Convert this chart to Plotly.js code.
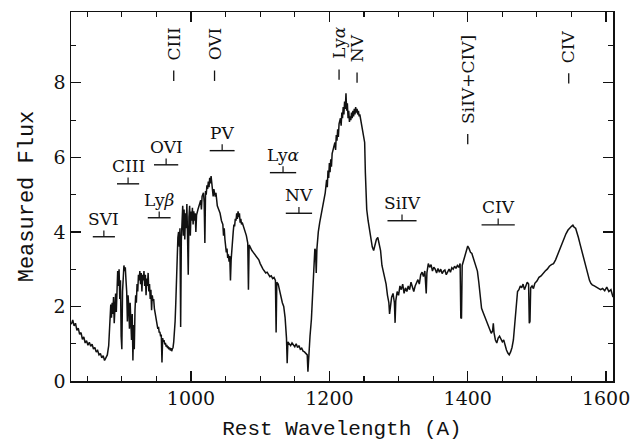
<!DOCTYPE html>
<html>
<head>
<meta charset="utf-8">
<script src="https://cdn.plot.ly/plotly-3.0.1.min.js"></script>
<style>
  html, body { margin: 0; padding: 0; background: #fff; }
  #chart { width: 630px; height: 444px; }
</style>
</head>
<body>
<div id="chart"></div>
<script>
// Rest-frame spectrum (Angstrom, measured flux)
const wavelength = [
  827,829,831,833,835,837,839,841,843,845,847,849,851,853,855,857,859,861,863,865,867,869,871,873,875,877,879,881,882,883,
  884,885,886,887,888,889,890,891,892,893,894,895,896,897,898,899,900,901,902,903,904,905,906,907,908,909,910,911,912,913,
  914,915,916,917,918,919,920,921,922,923,924,925,926,927,928,929,930,931,932,933,934,935,936,937,938,939,940,941,942,943,
  944,945,946,947,948,949,950,951,952,953,954,955,956,957,958,959,960,961,962,963,964,965,966,967,968,969,970,971,972,973,
  974,975,976,977,978,979,980,981,982,983,984,985,986,987,988,989,990,991,992,993,994,995,996,997,998,999,1000,1001,1002,1003,
  1004,1005,1006,1007,1008,1010,1012,1014,1015,1016,1018,1019,1020,1021,1022,1023,1024,1025,1026,1027,1028,1029,1030,1031,1032,1033,1034,1035,1036,1037,
  1038,1040,1042,1044,1046,1047,1048,1049,1050,1051,1052,1053,1054,1055,1056,1057,1058,1059,1060,1061,1062,1063,1064,1065,1066,1067,1068,1069,1070,1071,
  1072,1073,1074,1076,1078,1080,1082,1083,1084,1086,1088,1090,1092,1094,1096,1098,1100,1102,1104,1106,1108,1110,1112,1114,1116,1118,1120,1122,1123,1124,
  1126,1128,1130,1132,1134,1136,1138,1139,1140,1142,1144,1146,1148,1150,1152,1154,1156,1158,1160,1162,1164,1166,1168,1169,1170,1172,1174,1176,1178,1179,
  1180,1181,1182,1183,1184,1186,1188,1190,1192,1194,1196,1197,1198,1199,1200,1201,1202,1203,1204,1206,1208,1209,1210,1211,1212,1213,1214,1216,1217,1218,
  1219,1220,1221,1222,1223,1224,1225,1226,1227,1228,1229,1230,1231,1232,1233,1234,1235,1236,1237,1238,1239,1240,1241,1242,1243,1244,1246,1248,1250,1251,
  1252,1253,1254,1256,1258,1260,1262,1264,1266,1268,1270,1272,1274,1276,1278,1280,1282,1284,1286,1287,1288,1290,1292,1294,1295,1296,1298,1300,1302,1304,
  1306,1308,1310,1312,1314,1316,1318,1320,1322,1324,1326,1328,1330,1332,1334,1336,1338,1340,1341,1343,1345,1347,1349,1351,1353,1355,1357,1359,1361,1363,
  1365,1367,1369,1371,1373,1375,1377,1379,1381,1383,1385,1387,1389,1390,1391,1392,1394,1396,1398,1400,1402,1404,1406,1408,1410,1412,1414,1416,1418,1420,
  1422,1424,1426,1428,1430,1432,1434,1436,1437,1438,1440,1442,1444,1446,1448,1450,1452,1454,1456,1458,1460,1462,1464,1466,1468,1470,1472,1474,1476,1478,
  1480,1482,1484,1486,1488,1489,1490,1491,1493,1495,1497,1500,1503,1506,1509,1512,1515,1518,1521,1524,1527,1530,1533,1536,1539,1542,1545,1548,1550,1552,
  1554,1556,1558,1560,1562,1564,1566,1568,1570,1572,1574,1576,1578,1580,1583,1586,1589,1592,1595,1598,1601,1604,1607,1610
];
const flux = [
  1.52,1.64,1.48,1.55,1.36,1.42,1.25,1.30,1.12,1.18,1.02,1.08,0.96,1.04,0.93,0.99,0.86,0.90,0.78,0.82,0.70,0.74,0.62,0.68,0.55,0.62,0.70,0.95,1.45,1.85,
  2.05,1.70,2.10,1.80,2.25,1.55,2.00,2.35,1.85,2.60,2.95,2.55,3.00,2.20,2.70,1.20,0.85,2.40,2.90,3.10,2.95,3.05,2.70,2.40,1.60,2.30,2.00,1.40,2.10,1.70,
  1.10,1.80,0.55,1.50,0.85,1.90,2.30,2.10,2.60,2.40,2.85,2.70,2.95,2.60,2.90,2.40,2.85,2.70,2.95,2.55,2.85,2.30,2.75,2.55,2.90,2.40,2.60,2.20,2.45,1.90,
  2.30,2.15,2.20,1.95,1.85,1.70,1.60,1.52,1.40,1.45,1.30,1.32,1.20,1.25,0.50,1.15,1.05,1.10,0.98,1.02,0.92,0.97,0.88,0.93,0.85,0.90,0.82,0.88,0.80,0.86,
  0.90,1.05,1.25,1.60,2.10,2.80,3.40,3.85,4.00,3.60,4.10,1.45,3.80,4.30,4.70,3.90,4.60,3.80,4.50,4.10,4.75,3.85,2.85,4.40,4.70,3.90,4.55,4.30,4.65,4.20,
  4.55,4.30,4.50,4.00,4.45,4.60,4.70,4.85,4.60,4.95,5.05,4.80,3.70,5.10,5.00,5.25,5.15,5.35,5.20,5.45,5.30,5.50,5.25,5.05,4.95,5.15,5.00,4.95,5.05,4.85,
  4.70,4.60,4.50,4.30,4.20,3.90,4.10,3.80,3.60,3.45,3.55,3.30,3.40,3.20,3.35,2.70,3.25,3.60,3.90,4.00,4.20,4.15,4.35,4.30,4.50,4.35,4.55,4.40,4.50,4.25,
  4.35,4.20,4.25,4.15,4.05,3.90,3.70,2.45,3.65,3.55,3.50,3.45,3.40,3.35,3.30,3.25,3.15,3.05,3.00,2.95,2.90,2.92,2.85,2.80,2.82,2.75,2.78,2.70,1.30,2.65,
  2.60,2.40,2.25,2.10,2.00,1.70,1.15,0.48,1.05,1.00,0.95,1.02,0.95,0.92,1.00,0.90,0.95,0.85,0.88,0.80,0.78,0.75,0.70,0.25,0.65,1.20,1.65,2.55,3.30,3.55,
  3.50,2.90,3.55,3.80,4.00,4.25,4.45,4.60,4.80,5.05,5.40,5.20,5.65,5.45,5.85,5.60,5.95,5.75,6.10,6.25,6.40,6.20,6.60,6.45,6.75,6.55,6.90,7.05,6.85,7.20,
  7.05,7.35,7.15,7.50,7.30,7.72,7.25,7.45,7.05,7.25,6.95,7.10,7.00,7.20,7.05,7.25,7.10,7.30,7.15,7.35,7.20,7.30,7.15,7.25,7.10,7.15,6.95,6.80,6.55,6.40,
  5.60,4.90,4.60,4.30,4.05,3.90,3.60,3.50,3.65,3.80,3.85,3.70,3.50,3.10,2.95,2.80,2.60,2.30,2.10,1.80,2.00,2.25,2.35,2.10,1.56,2.15,2.40,2.30,2.55,2.45,
  2.60,2.35,2.50,2.40,2.55,2.45,2.65,2.50,2.40,2.55,2.65,2.72,2.60,2.85,2.92,2.80,2.95,2.35,2.90,3.15,3.05,3.12,2.95,3.05,3.00,2.90,3.02,2.92,3.00,2.88,
  2.95,2.98,2.85,2.95,3.00,2.92,3.04,3.00,3.08,3.02,3.10,3.05,3.15,1.70,1.68,3.10,3.25,3.40,3.50,3.62,3.55,3.45,3.42,3.30,3.20,3.10,2.95,2.65,2.35,1.95,
  1.85,1.75,1.70,1.55,1.45,1.40,1.28,1.35,1.55,1.30,1.10,1.02,1.15,1.20,1.12,1.05,1.10,0.92,0.83,0.75,0.70,0.78,0.90,1.10,1.55,2.10,2.40,2.45,2.55,2.50,
  2.60,2.45,2.55,2.65,2.60,1.55,1.60,2.50,2.55,2.48,2.62,2.68,2.78,2.82,2.90,2.95,3.00,3.08,3.12,3.15,3.25,3.40,3.55,3.70,3.80,3.95,4.05,4.12,4.15,4.18,
  4.12,4.10,4.00,3.85,3.70,3.55,3.40,3.22,3.10,2.95,2.80,2.70,2.62,2.58,2.55,2.52,2.50,2.45,2.48,2.42,2.52,2.40,2.45,2.25
];

// Emission-line identifications (rest wavelength, marker base level)
const emisNames = ['CIII', 'OVI', 'Ly<i>α</i>', 'NV', 'SiIV+CIV]', 'CIV'];
const emisWave  = [975, 1034, 1214, 1240, 1400, 1546];
const emisLevel = [8.05, 8.05, 8.08, 8.0, 6.35, 7.98];

// Blueshifted absorption troughs (centre, level, bar width in Angstrom)
const absNames = ['SVI', 'CIII', 'Ly<i>β</i>', 'OVI', 'PV', 'Ly<i>α</i>', 'NV', 'SiIV', 'CIV'];
const absWave  = [874, 909, 954, 964, 1045, 1133, 1156, 1305, 1444];
const absLevel = [3.87, 5.29, 4.38, 5.80, 6.18, 5.59, 4.50, 4.30, 4.19];
const absWidth = [32, 32, 33, 35, 36, 38, 38, 42, 48];

const ink = '#111';
const labelFont = { family: 'DejaVu Serif', size: 17, color: ink };

const shapes = [];
const annotations = [];

emisWave.forEach((w, i) => {
  shapes.push({ type: 'line', xref: 'x', yref: 'y', x0: w, x1: w,
    y0: emisLevel[i], y1: emisLevel[i] + 0.28, line: { color: ink, width: 1.3 } });
  annotations.push({ x: w, y: emisLevel[i] + 0.5, xref: 'x', yref: 'y',
    text: emisNames[i], textangle: -90, showarrow: false,
    xanchor: 'center', yanchor: 'bottom', font: labelFont });
});

absWave.forEach((w, i) => {
  const half = absWidth[i] / 2;
  shapes.push({ type: 'line', xref: 'x', yref: 'y', x0: w - half, x1: w + half,
    y0: absLevel[i], y1: absLevel[i], line: { color: ink, width: 1.4 } });
  shapes.push({ type: 'line', xref: 'x', yref: 'y', x0: w, x1: w,
    y0: absLevel[i], y1: absLevel[i] + 0.17, line: { color: ink, width: 1.2 } });
  annotations.push({ x: w, y: absLevel[i], xref: 'x', yref: 'y', yshift: 6,
    text: absNames[i], showarrow: false,
    xanchor: 'center', yanchor: 'bottom', font: labelFont });
});

const tickFont = { family: 'DejaVu Serif', size: 19, color: ink };

const axisCommon = {
  showgrid: false, zeroline: false, showline: true, mirror: 'ticks',
  linecolor: ink, linewidth: 1.5, ticks: 'inside', ticklen: 10, tickwidth: 1.3,
  tickcolor: ink, tickfont: tickFont, ticklabeloverflow: 'allow'
};

const layout = {
  width: 630, height: 444,
  margin: { l: 71, r: 17, t: 12, b: 63 },
  paper_bgcolor: '#fff', plot_bgcolor: '#fff',
  showlegend: false,
  xaxis: Object.assign({}, axisCommon, {
    range: [826.5, 1610], tick0: 0, dtick: 200,
    minor: { dtick: 50, ticklen: 5, tickwidth: 1.1, ticks: 'inside', tickcolor: ink },
    title: { text: 'Rest Wavelength (A)', font: { family: 'Liberation Mono', size: 21, color: ink }, standoff: 12 }
  }),
  yaxis: Object.assign({}, axisCommon, {
    range: [0, 9.9], tick0: 0, dtick: 2,
    minor: { dtick: 1, ticklen: 5, tickwidth: 1.1, ticks: 'inside', tickcolor: ink },
    title: { text: 'Measured Flux', font: { family: 'Liberation Mono', size: 22, color: ink }, standoff: 14 }
  }),
  shapes: shapes,
  annotations: annotations
};

Plotly.newPlot('chart', [{
  type: 'scatter', mode: 'lines', x: wavelength, y: flux,
  line: { color: ink, width: 1.5 }, hoverinfo: 'skip'
}], layout, { staticPlot: true, displayModeBar: false });
</script>
</body>
</html>
